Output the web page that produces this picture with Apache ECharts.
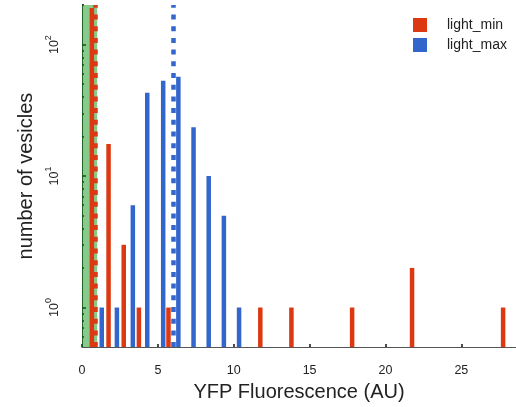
<!DOCTYPE html>
<html>
<head>
<meta charset="utf-8">
<script src="https://cdn.jsdelivr.net/npm/echarts@6/dist/echarts.min.js"></script>
<style>
  html, body { margin: 0; padding: 0; background: #fff; }
  #chart { width: 516px; height: 407px; }
</style>
</head>
<body>
<div id="chart"></div>
<script>
// histogram bin centres (AU) and counts
const minX = [0.65, 1.75, 2.75, 3.75, 5.7, 11.75, 13.8, 17.8, 21.75, 27.75];
const minCounts = [190, 17.5, 3, 1, 1, 1, 1, 1, 2, 1];
const maxX = [1.3, 2.3, 3.35, 4.3, 5.35, 6.35, 7.35, 8.35, 9.35, 10.35];
const maxCounts = [1, 1, 6, 43, 53, 57, 23.5, 10, 5, 1];

// thresholds and background band
const minThreshold = 0.9;
const maxThreshold = 6;
const bandRange = [0, 1];

const xTicks = [0, 5, 10, 15, 20, 25];
const yMajor = [1, 10, 100];
const yMinor = [0.6, 0.7, 0.8, 0.9, 2, 3, 4, 5, 6, 7, 8, 9, 20, 30, 40, 50, 60, 70, 80, 90, 200];

const RED = '#dc3912';
const BLUE = '#3366cc';
const FONT = 'Liberation Sans, Arial, sans-serif';

const pairs = (xs, ys) => xs.map((x, i) => [x, ys[i]]);

const chart = echarts.init(document.getElementById('chart'));

const logAxis = {
  type: 'log',
  logBase: 10,
  min: 0.5,
  max: 200,
  startValue: 0.5,
  splitLine: { show: false }
};

chart.setOption({
  animation: false,
  textStyle: { fontFamily: FONT },
  grid: { left: 82, right: 0, top: 5, bottom: 59 },
  legend: {
    orient: 'vertical',
    left: 413,
    top: 18,
    padding: 0,
    itemWidth: 14,
    itemHeight: 14,
    itemGap: 6,
    icon: 'rect',
    data: ['light_min', 'light_max'],
    textStyle: { fontSize: 14, color: '#222', fontFamily: FONT, padding: [0, 0, 0, 15] }
  },
  xAxis: {
    type: 'value',
    min: 0,
    max: 28.6,
    interval: 5,
    splitLine: { show: false },
    axisLine: { lineStyle: { color: '#555', width: 1 } },
    axisTick: { inside: true, length: 3, customValues: xTicks, lineStyle: { color: '#111', width: 1.5 } },
    axisLabel: { customValues: xTicks, margin: 17, fontSize: 12.5, color: '#222', fontFamily: FONT },
    name: 'YFP Fluorescence (AU)',
    nameLocation: 'middle',
    nameGap: 33,
    nameTextStyle: { fontSize: 20, color: '#222', fontFamily: FONT }
  },
  yAxis: [
    Object.assign({}, logAxis, {
      axisLine: { show: true, lineStyle: { color: '#333', width: 1 } },
      axisTick: { inside: true, length: 4, customValues: yMajor, lineStyle: { color: '#111', width: 1.5 } },
      axisLabel: {
        customValues: yMajor,
        rotate: 90,
        margin: 21,
        color: '#222',
        formatter: v => '{b|10}{s|' + Math.round(Math.log10(v)) + '}',
        rich: {
          b: { fontSize: 12.5, fontFamily: FONT, color: '#222', verticalAlign: 'bottom', lineHeight: 17 },
          s: { fontSize: 9, fontFamily: FONT, color: '#222', verticalAlign: 'top', lineHeight: 17 }
        }
      },
      name: 'number of vesicles',
      nameLocation: 'middle',
      nameGap: 46,
      nameTextStyle: { fontSize: 20, color: '#222', fontFamily: FONT }
    }),
    Object.assign({}, logAxis, {
      position: 'left',
      axisLine: { show: false },
      axisTick: { inside: true, length: 2, customValues: yMinor, lineStyle: { color: '#111', width: 1.5 } },
      axisLabel: { show: false }
    })
  ],
  series: [
    {
      name: 'light_min',
      type: 'bar',
      barWidth: 4.5,
      barGap: '-100%',
      itemStyle: { color: RED },
      z: 2,
      data: pairs(minX, minCounts)
    },
    {
      name: 'light_max',
      type: 'bar',
      barWidth: 4.5,
      barGap: '-100%',
      itemStyle: { color: BLUE },
      z: 2,
      data: pairs(maxX, maxCounts)
    },
    {
      // translucent green band over the first bin
      name: 'band',
      type: 'line',
      data: [],
      z: 3,
      silent: true,
      markArea: {
        silent: true,
        itemStyle: { color: 'rgba(16,150,24,0.5)' },
        data: [[{ xAxis: bandRange[0] }, { xAxis: bandRange[1] }]]
      }
    },
    {
      name: 'thresholds',
      type: 'line',
      data: [],
      z: 4,
      silent: true,
      markLine: {
        silent: true,
        symbol: 'none',
        label: { show: false },
        data: [
          { xAxis: minThreshold, lineStyle: { color: RED, width: 4.5, type: [5, 6.7] } },
          { xAxis: maxThreshold, lineStyle: { color: BLUE, width: 4.5, type: [5, 6.7] } }
        ]
      }
    }
  ]
});
</script>
</body>
</html>
